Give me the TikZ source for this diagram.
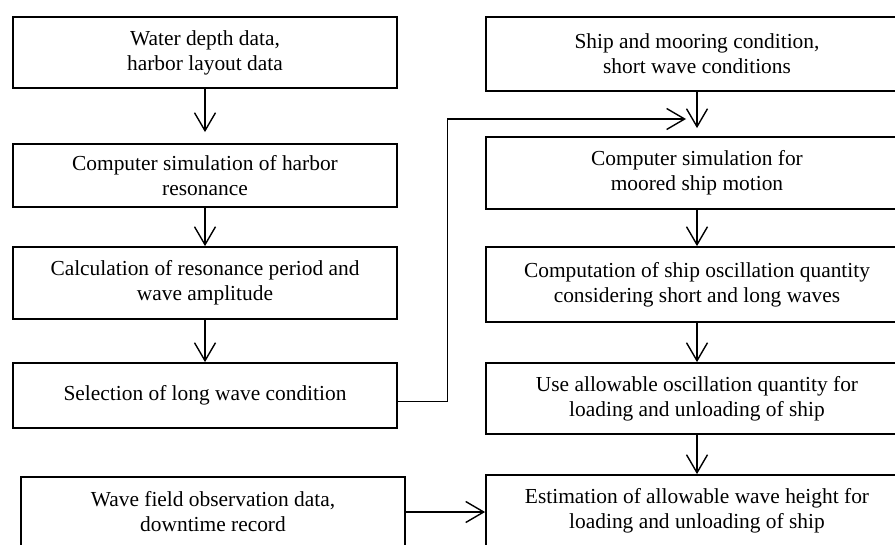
\documentclass[tikz,border=0pt]{standalone}
\usepackage{fontspec}
\setmainfont{Liberation Serif}
\usepackage{tikz}
\usetikzlibrary{arrows.meta}
\tikzstyle{harbor} = [rectangle, minimum width=384pt, align=center, inner sep=0pt, draw=black, line width=1.8pt, font=\fontsize{21.4}{25}\selectfont]
\tikzstyle{ship} = [harbor, minimum width=422pt]
\tikzstyle{arrow} = [line width=1.4pt, -{Straight Barb[length=18pt,width=21pt]}]

\begin{document}
\begin{tikzpicture}[x=1pt, y=-1pt]
  \useasboundingbox (0,0) rectangle (895,544);
  \node(a)[harbor, minimum height=71pt] at (205,52.5) {Water depth data,\\harbor layout data};
  \node(b)[harbor, minimum height=63pt] at (205,175.5) {Computer simulation of harbor\\resonance};
  \node(c)[harbor, minimum height=72pt] at (205,283) {Calculation of resonance period and\\wave amplitude};
  \node(d)[harbor, minimum height=65pt] at (205,395.5) {Selection of long wave condition};
  \node(e)[harbor, minimum height=70pt] at (213,512) {Wave field observation data,\\downtime record};
  \node(f)[ship, minimum height=74pt] at (697,54) {Ship and mooring condition,\\short wave conditions};
  \node(g)[ship, minimum height=72pt] at (697,173) {Computer simulation for\\moored ship motion};
  \node(h)[ship, minimum height=75pt] at (697,284.5) {Computation of ship oscillation quantity\\considering short and long waves};
  \node(i)[ship, minimum height=71pt] at (697,398.5) {Use allowable oscillation quantity for\\loading and unloading of ship};
  \node(j)[ship, minimum height=71pt] at (697,510.5) {Estimation of allowable wave height for\\loading and unloading of ship};
  \coordinate(k) at (686,119);
  \draw[arrow, shorten >=11pt] (a)--(b);
  \draw[arrow] (b)--(c);
  \draw[arrow] (c)--(d);
  \draw[arrow, shorten >=8pt] (f)--(g);
  \draw[arrow] (g)--(h);
  \draw[arrow] (h)--(i);
  \draw[arrow] (i)--(j);
  \draw[arrow] ([yshift=-6pt]d.east) -- ++(49.7,0) |- (k);
  \draw[arrow] (e.east) -- (e.east -| j.west);
\end{tikzpicture}
\end{document}
